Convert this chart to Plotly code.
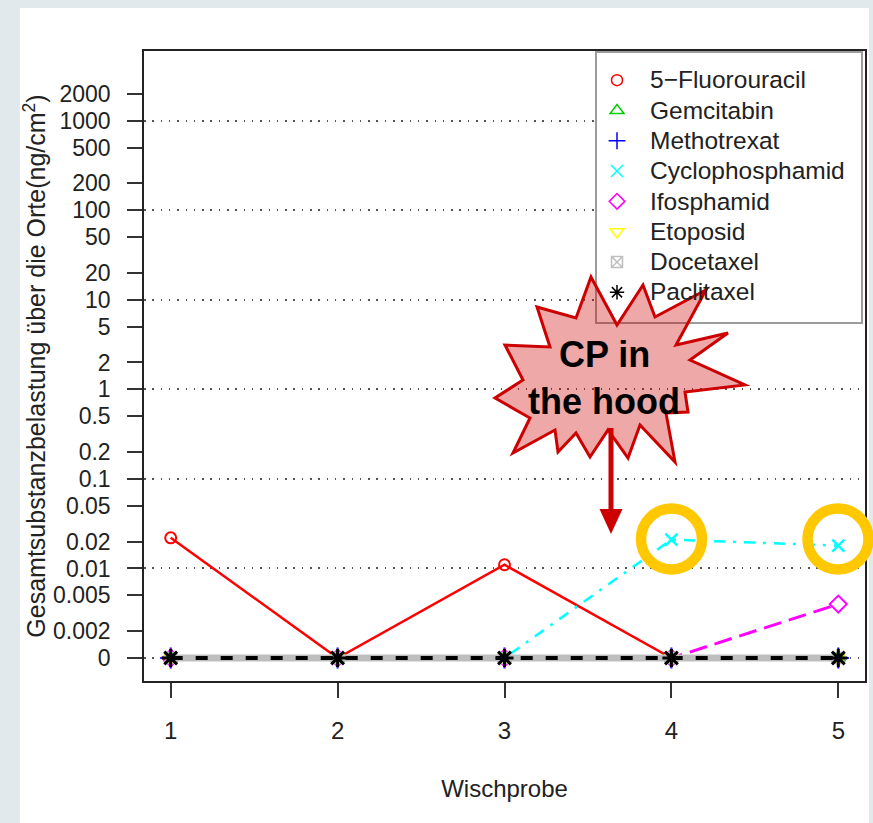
import plotly.graph_objects as go

FONT = "Liberation Sans, Arial, sans-serif"

# ---- data -------------------------------------------------------------
probe = [1, 2, 3, 4, 5]
substances = ["5\u2212Fluorouracil", "Gemcitabin", "Methotrexat", "Cyclophosphamid",
              "Ifosphamid", "Etoposid", "Docetaxel", "Paclitaxel"]
fluorouracil = [0.022, 0, 0.011, 0, 0]
gemcitabin = [0, 0, 0, 0, 0]
methotrexat = [0, 0, 0, 0, 0]
cyclophosphamid = [0, 0, 0, 0.021, 0.018]
ifosphamid = [0, 0, 0, 0, 0.004]
etoposid = [0, 0, 0, 0, 0]
docetaxel = [0, 0, 0, 0, 0]
paclitaxel = [0, 0, 0, 0, 0]

ytick_values = [0, 0.002, 0.005, 0.01, 0.02, 0.05, 0.1, 0.2, 0.5, 1, 2, 5,
                10, 20, 50, 100, 200, 500, 1000, 2000]
ytick_labels = ["0", "0.002", "0.005", "0.01", "0.02", "0.05", "0.1", "0.2", "0.5",
                "1", "2", "5", "10", "20", "50", "100", "200", "500", "1000", "2000"]
grid_values = [0, 0.01, 0.1, 1, 10, 100, 1000]

# zero loads are placed one decade below the smallest labelled value
ZERO_AT = 0.001


def on_axis(values):
    return [ZERO_AT if v == 0 else v for v in values]


# ---- geometry of the plotting region (pixels) -------------------------
W, H = 873, 823
L, R, T, B = 144, 865, 51, 681
PW, PH = R - L, B - T


def px(x):
    return (x - L) / PW


def py(y):
    return (B - y) / PH


# ---- styles ----------------------------------------------------------
styles = [
    dict(color="#FF0000", symbol="circle-open", size=11, lw=2.5, dash="solid", mlw=2),
    dict(color="#00CD00", symbol="triangle-up-open", size=12, lw=2, dash="8px,8px", mlw=2),
    dict(color="#0000FF", symbol="cross-thin-open", size=15, lw=2, dash="2px,6px", mlw=2),
    dict(color="#00FFFF", symbol="x-thin-open", size=12, lw=2.5, dash="3px,8px,11px,8px", mlw=2.5),
    dict(color="#FF00FF", symbol="diamond-open", size=13, lw=3, dash="18px,8px", mlw=2),
    dict(color="#FFFF00", symbol="triangle-down-open", size=12, lw=2, dash="4px,4px,12px,4px", mlw=2),
    dict(color="#BEBEBE", symbol="square-x-open", size=11, lw=7, dash="solid", mlw=1.5),
    dict(color="#000000", symbol="asterisk-open", size=15, lw=4, dash="12px,13px", mlw=3),
]
series = [fluorouracil, gemcitabin, methotrexat, cyclophosphamid,
          ifosphamid, etoposid, docetaxel, paclitaxel]

fig = go.Figure()

# helper trace that carries the dotted reference lines (secondary y axis)
fig.add_trace(go.Scatter(x=probe, y=[None] * len(probe), yaxis="y2",
                         mode="lines", showlegend=False, hoverinfo="skip"))

for name, vals, st in zip(substances, series, styles):
    fig.add_trace(go.Scatter(
        x=probe, y=on_axis(vals), mode="lines+markers", name=name, showlegend=False,
        line=dict(color=st["color"], width=st["lw"], dash=st["dash"]),
        marker=dict(symbol=st["symbol"], size=st["size"], color=st["color"],
                    line=dict(color=st["color"], width=st["mlw"])),
    ))

# legend shows the plotting symbols only
for name, st in zip(substances, styles):
    fig.add_trace(go.Scatter(
        x=[None], y=[None], mode="markers", showlegend=True,
        name=f"<span style='font-size:24.5px'>{name}</span>",
        marker=dict(symbol=st["symbol"], size=min(st["size"], 12), color=st["color"],
                    line=dict(color=st["color"], width=1.5)),
    ))

shapes = []
# white slide panel behind everything
shapes.append(dict(type="rect", xref="paper", yref="paper", layer="below",
                   x0=px(20), x1=px(869), y0=py(8), y1=py(823 + 5),
                   fillcolor="white", line=dict(width=0)))
# legend box (kept as a shape so the callout can sit over it)
shapes.append(dict(type="rect", xref="paper", yref="paper", layer="above",
                   x0=px(596), x1=px(862), y0=py(52), y1=py(323),
                   fillcolor="white", line=dict(color="#9C9C9C", width=2)))

# starburst callout
burst = [(591, 277), (617, 325), (643, 285), (655, 317), (706, 290), (676, 345),
         (728, 333), (690, 360), (745, 385), (685, 392), (688, 412), (666, 413),
         (675, 462), (640, 425), (628, 458), (608, 430), (590, 457), (576, 433),
         (558, 452), (555, 430), (513, 453), (530, 418), (495, 398), (523, 380),
         (505, 345), (550, 347), (537, 307), (576, 318)]
path = "M " + " L ".join(f"{px(x):.5f},{py(y):.5f}" for x, y in burst) + " Z"
shapes.append(dict(type="path", xref="paper", yref="paper", layer="above", path=path,
                   fillcolor="rgba(204,0,0,0.34)", line=dict(color="#CC0000", width=3)))

# arrow from the callout down to the sample
shapes.append(dict(type="line", xref="paper", yref="paper", layer="above",
                   x0=px(611), x1=px(611), y0=py(428), y1=py(512),
                   line=dict(color="#CC0000", width=5)))
shapes.append(dict(type="path", xref="paper", yref="paper", layer="above",
                   path=f"M {px(599.5)},{py(509)} L {px(622.5)},{py(509)} L {px(611)},{py(534)} Z",
                   fillcolor="#CC0000", line=dict(width=0)))

# highlight rings
for cx in (671.5, 838):
    shapes.append(dict(type="circle", xref="paper", yref="paper", layer="above",
                       x0=px(cx - 30.5), x1=px(cx + 30.5), y0=py(539 + 30.5), y1=py(539 - 30.5),
                       line=dict(color="#FFC800", width=10.5)))

annotations = [
    dict(text="CP in", x=px(604), y=py(355), xref="paper", yref="paper",
         showarrow=False, xanchor="center", yanchor="middle",
         font=dict(family=FONT, size=36, color="black", weight="bold")),
    dict(text="the hood", x=px(604), y=py(401), xref="paper", yref="paper",
         showarrow=False, xanchor="center", yanchor="middle",
         font=dict(family=FONT, size=36, color="black", weight="bold")),
]

yrange = [-3.257, 3.78]

fig.update_layout(
    width=W, height=H,
    margin=dict(l=L, r=W - R, t=T, b=H - B, pad=0),
    paper_bgcolor="#E1E9ED",
    plot_bgcolor="rgba(0,0,0,0)",
    font=dict(family=FONT, size=24, color="#222"),
    showlegend=True,
    legend=dict(x=px(584), y=py(60), xanchor="left", yanchor="top",
                bgcolor="rgba(0,0,0,0)", borderwidth=0,
                itemwidth=56, traceorder="normal",
                font=dict(family=FONT, size=21, color="#222")),
    xaxis=dict(range=[0.84, 5.16], tickvals=probe, ticktext=[str(p) for p in probe],
               showgrid=False, zeroline=False, showline=True, mirror=True,
               linecolor="#222", linewidth=1.5, ticks="outside", ticklen=15,
               tickwidth=1.5, tickcolor="#333", ticklabelstandoff=12,
               tickfont=dict(family=FONT, size=24, color="#222"),
               automargin=False,
               title=dict(text="Wischprobe", standoff=38,
                          font=dict(family=FONT, size=24, color="#222"))),
    yaxis=dict(type="log", range=yrange, tickvals=on_axis(ytick_values), ticktext=ytick_labels,
               showgrid=False, zeroline=False, showline=True, mirror=True,
               linecolor="#222", linewidth=1.5, ticks="outside", ticklen=15,
               tickwidth=1.5, tickcolor="#333", ticklabelstandoff=12,
               tickfont=dict(family=FONT, size=23, color="#222"),
               automargin=False,
               title=dict(text="Gesamtsubstanzbelastung über die Orte(ng/cm<sup>2</sup>)",
                          standoff=0, font=dict(family=FONT, size=25, color="#222"))),
    yaxis2=dict(type="log", range=yrange, overlaying="y", side="left",
                tickvals=on_axis(grid_values), showticklabels=False, ticks="",
                showline=False, zeroline=False, showgrid=True,
                gridcolor="#555", gridwidth=1.5, griddash="1.5px,6.8px"),
    shapes=shapes,
    annotations=annotations,
)

fig.write_html("out.html")
